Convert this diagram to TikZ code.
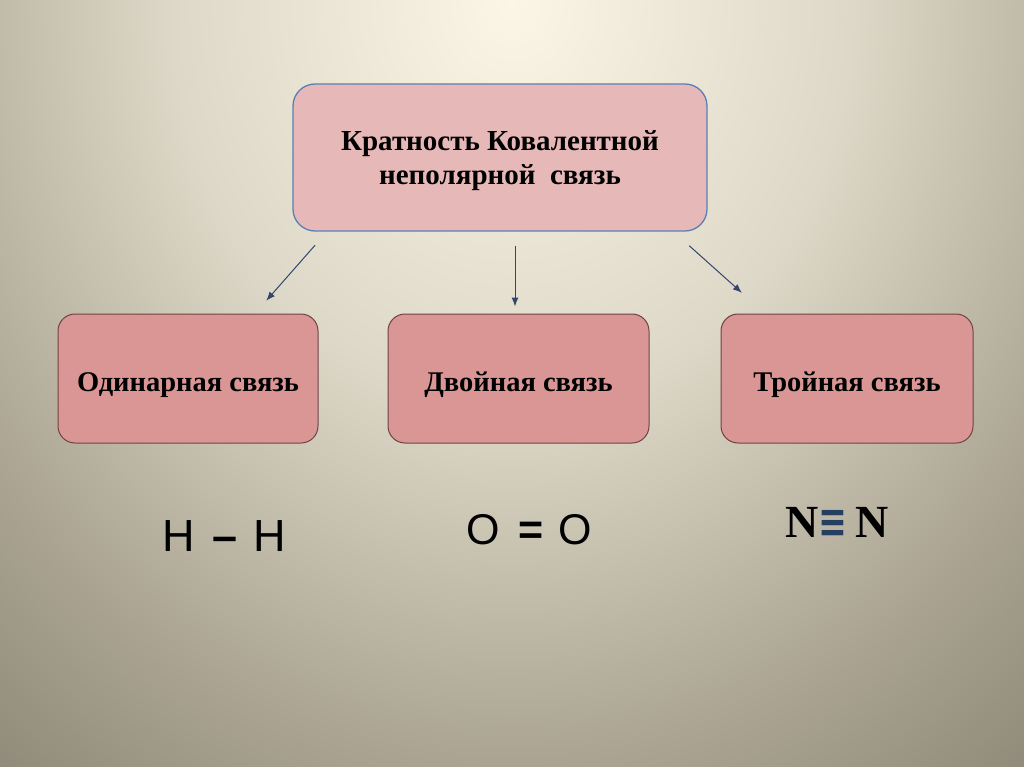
\documentclass[tikz,border=0pt]{standalone}
\usepackage{fontspec}
\setmainfont{Liberation Serif}
\newfontfamily\arialfont{Liberation Sans}
\newfontfamily\symbolfont{DejaVu Sans}
\usetikzlibrary{arrows.meta, positioning}
\definecolor{bgtop}{HTML}{FBF6E6}
\definecolor{bgmid}{HTML}{DDD8C7}
\definecolor{bgbottom}{HTML}{ABA493}
\definecolor{bgcorner}{HTML}{8E8878}
\definecolor{topfill}{HTML}{E6B9B8}
\definecolor{topdraw}{HTML}{5B7FB5}
\definecolor{bondfill}{HTML}{D99694}
\definecolor{bonddraw}{HTML}{6E4444}
\definecolor{arrowblue}{HTML}{34466E}
\definecolor{eqblue}{HTML}{243F60}
\pgfdeclareradialshading{slidebg}{\pgfpoint{0bp}{0bp}}{color(0bp)=(bgtop); color(10bp)=(bgmid); color(19bp)=(bgbottom); color(25bp)=(bgcorner); color(50bp)=(bgcorner)}
\tikzset{
	topnode/.style={
			rectangle,
			rounded corners=22pt,
			draw=topdraw,
			line width=1.3pt,
			fill=topfill,
			minimum width=414pt,
			minimum height=147pt,
			align=center,
			font=\bfseries\fontsize{29}{34}\selectfont
		},
	bondnode/.style={
			rectangle,
			rounded corners=17pt,
			draw=bonddraw,
			line width=1pt,
			fill=bondfill,
			minimum height=129pt,
			text height=30pt,
			text depth=5pt,
			font=\bfseries\fontsize{28.5}{32}\selectfont
		},
	formulatext/.style={
			font=\arialfont\fontsize{#1}{50}\selectfont
		}
}
\tikzset{
	linkarrow/.style={
			-{Latex[length=9pt,width=7pt]},
			draw=arrowblue,
			line width=1pt
		}
}
\begin{document}
\begin{tikzpicture}[x=1pt, y=-1pt]
	\useasboundingbox (0,0) rectangle (1024,767);
	\begin{scope}
		\clip (0,0) rectangle (1024,767);
		\shade[shading=slidebg] (512,0) ellipse [x radius=850, y radius=1000];
	\end{scope}

	\node[topnode] at (500,157.5) (top) {\rule{0pt}{27pt}Кратность Ковалентной\\неполярной\ \ связь};

	\node[bondnode, minimum width=260pt] at (188,378.5) (one) {Одинарная связь};
	\node[bondnode, minimum width=261pt] at (518.5,378.5) (two) {Двойная связь};
	\node[bondnode, minimum width=252pt] at (847,378.5) (three) {Тройная связь};

	\node[formulatext=45] at (224,536) (hh) {H~\kern5pt{\bfseries –}\kern3pt~H};
	\node[formulatext=43] at (529,530) (oo) {O~\kern7pt{\bfseries =}\kern3pt~O};
	\node[font=\bfseries\fontsize{46}{50}\selectfont] at (837,522) (nn)
		{N{\symbolfont\bfseries\color{eqblue}\scalebox{0.75}[1.0]{≡}}\,N};

	\draw[linkarrow, shorten <=18pt, shorten >=17pt] ([xshift=-173pt]top.south) -- ([xshift=67pt]one.north);
	\draw[linkarrow, shorten <=14pt, shorten >=7pt] ([xshift=15pt]top.south) -- ([xshift=-3.5pt]two.north);
	\draw[linkarrow, shorten <=21pt, shorten >=31pt] ([xshift=173.5pt]top.south) -- ([xshift=-82pt]three.north);
\end{tikzpicture}
\end{document}
